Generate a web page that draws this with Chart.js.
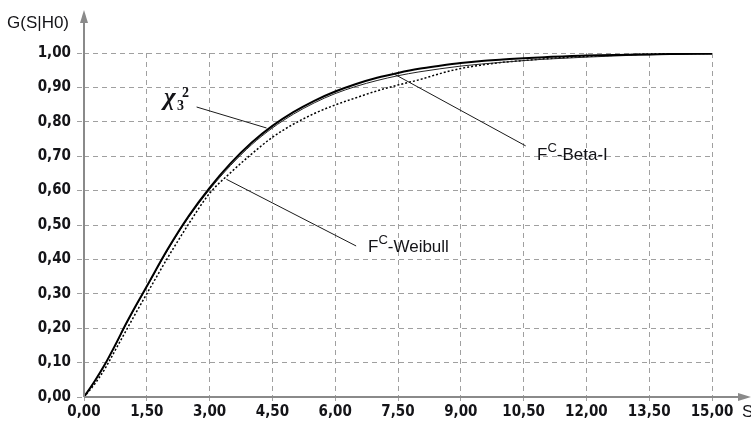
<!DOCTYPE html>
<html>
<head>
<meta charset="utf-8">
<script src="https://cdn.jsdelivr.net/npm/chart.js@4.4.0/dist/chart.umd.min.js"></script>
<style>
  html, body { margin: 0; padding: 0; background: #fff; }
  #wrap { width: 751px; height: 425px; }
</style>
</head>
<body>
<div id="wrap"><canvas id="cdf-chart" width="751" height="425"></canvas></div>
<script>
(function () {
    "use strict";

    // ---------------------------------------------------------
    // DATA
    // ---------------------------------------------------------
    const sValues = [0, 0.25, 0.5, 0.75, 1, 1.25, 1.5, 2, 2.5, 3, 3.5, 4, 4.5, 5, 5.5, 6,
        6.5, 7, 7.5, 8, 8.5, 9, 9.5, 10, 10.5, 11, 12, 13, 13.5, 14, 15];

    const chi2Values = [0, 0.045, 0.095, 0.152, 0.212, 0.268, 0.322, 0.430, 0.526, 0.608, 0.679,
        0.739, 0.788, 0.828, 0.861, 0.888, 0.910, 0.928, 0.942, 0.954, 0.963, 0.971, 0.977,
        0.981, 0.985, 0.988, 0.993, 0.995, 0.996, 0.997, 0.998];

    const betaValues = [0, 0.045, 0.094, 0.150, 0.210, 0.266, 0.320, 0.427, 0.522, 0.603, 0.673,
        0.733, 0.782, 0.822, 0.855, 0.882, 0.903, 0.920, 0.934, 0.945, 0.954, 0.962, 0.968,
        0.973, 0.978, 0.982, 0.988, 0.993, 0.995, 0.996, 0.998];

    const weibullValues = [0, 0.037, 0.082, 0.137, 0.192, 0.247, 0.300, 0.405, 0.503, 0.592, 0.652,
        0.706, 0.755, 0.793, 0.824, 0.849, 0.870, 0.890, 0.907, 0.922, 0.940, 0.955, 0.965,
        0.973, 0.978, 0.983, 0.990, 0.995, 0.997, 0.998, 0.999];

    const xTicks = [0, 1.5, 3, 4.5, 6, 7.5, 9, 10.5, 12, 13.5, 15];
    const yTicks = [0, 0.1, 0.2, 0.3, 0.4, 0.5, 0.6, 0.7, 0.8, 0.9, 1.0];

    const yTitle = "G(S|H0)";
    const xTitle = "S";

    // ---------------------------------------------------------
    // Helpers
    // ---------------------------------------------------------
    const TICK_FONT = '"DejaVu Sans Condensed", "DejaVu Sans", Arial, sans-serif';
    const TEXT_FONT = '"Liberation Sans", Arial, sans-serif';
    const SERIF = '"Liberation Serif", "DejaVu Serif", serif';
    const INK = "#141418";

    const fmt = (v) => Number(v).toFixed(2).replace(".", ",");
    const pts = (vals) => sValues.map((s, i) => ({ x: s, y: vals[i] }));

    function line(ctx, x1, y1, x2, y2) {
        ctx.beginPath();
        ctx.moveTo(x1, y1);
        ctx.lineTo(x2, y2);
        ctx.stroke();
    }

    // F^C-xxx label
    function fcLabel(ctx, text, x, base) {
        ctx.font = "17px " + TEXT_FONT;
        ctx.fillText("F", x, base);
        let w = ctx.measureText("F").width;
        ctx.font = "13px " + TEXT_FONT;
        ctx.fillText("C", x + w, base - 8);
        w += ctx.measureText("C").width;
        ctx.font = "17px " + TEXT_FONT;
        ctx.fillText(text, x + w, base);
    }

    // ---------------------------------------------------------
    // Axes arrows, titles and curve labels
    // ---------------------------------------------------------
    const decorPlugin = {
        id: "cdfDecor",
        afterDraw(chart) {
            const ctx = chart.ctx;
            const sx = chart.scales.x;
            const sy = chart.scales.y;
            const px = (v) => sx.getPixelForValue(v);
            const py = (v) => sy.getPixelForValue(v);
            const x0 = px(0);
            const y0 = py(0);

            ctx.save();

            // axis lines with arrow heads
            ctx.strokeStyle = "#8a8a8a";
            ctx.fillStyle = "#8a8a8a";
            ctx.lineWidth = 2;
            line(ctx, x0, y0, x0, 20);
            line(ctx, x0, y0, 742, y0);
            ctx.beginPath();
            ctx.moveTo(x0, 10);
            ctx.lineTo(x0 - 4, 23);
            ctx.lineTo(x0 + 4, 23);
            ctx.closePath();
            ctx.fill();
            ctx.beginPath();
            ctx.moveTo(751, y0);
            ctx.lineTo(738, y0 - 4);
            ctx.lineTo(738, y0 + 4);
            ctx.closePath();
            ctx.fill();

            // axis titles
            ctx.fillStyle = INK;
            ctx.textBaseline = "alphabetic";
            ctx.textAlign = "left";
            ctx.font = "17px " + TEXT_FONT;
            ctx.fillText(yTitle, 7, 28);
            ctx.fillText(xTitle, 742, 417);

            // leader lines
            ctx.strokeStyle = "#1a1a1a";
            ctx.lineWidth = 1;
            line(ctx, px(2.69), py(0.843), px(4.36), py(0.782));
            line(ctx, px(7.36), py(0.942), px(10.55), py(0.730));
            line(ctx, px(3.40), py(0.633), px(6.50), py(0.439));

            // chi-square label
            ctx.fillStyle = INK;
            ctx.font = "italic bold 25px " + SERIF;
            ctx.fillText("\u03C7", 164, 105);
            ctx.font = "bold 14px " + SERIF;
            ctx.fillText("3", 177, 110);
            ctx.fillText("2", 182, 97);

            // F^C labels
            fcLabel(ctx, "-Beta-I", 537, 160);
            fcLabel(ctx, "-Weibull", 368, 252);

            ctx.restore();
        },
    };

    // ---------------------------------------------------------
    // Chart
    // ---------------------------------------------------------
    const canvas = document.getElementById("cdf-chart");

    new Chart(canvas, {
        type: "line",
        data: {
            datasets: [
                {
                    label: "chi2",
                    data: pts(chi2Values),
                    borderColor: "#000",
                    borderWidth: 2,
                    pointRadius: 0,
                    cubicInterpolationMode: "monotone",
                },
                {
                    label: "Beta-I",
                    data: pts(betaValues),
                    borderColor: "#222",
                    borderWidth: 1,
                    pointRadius: 0,
                    cubicInterpolationMode: "monotone",
                },
                {
                    label: "Weibull",
                    data: pts(weibullValues),
                    borderColor: "#000",
                    borderWidth: 1.5,
                    borderDash: [2, 2],
                    pointRadius: 0,
                    cubicInterpolationMode: "monotone",
                },
            ],
        },
        options: {
            responsive: false,
            animation: false,
            layout: { padding: { top: 53, right: 39, left: 0, bottom: 0 } },
            plugins: {
                legend: { display: false },
                tooltip: { enabled: false },
            },
            scales: {
                x: {
                    type: "linear",
                    min: 0,
                    max: 15,
                    afterBuildTicks: (s) => { s.ticks = xTicks.map((v) => ({ value: v })); },
                    afterFit: (s) => { s.height = 28; },
                    grid: { color: "#a0a0a0", lineWidth: 1, tickLength: 4, tickBorderDash: [5, 4] },
                    border: { display: false, dash: [5, 4] },
                    ticks: {
                        padding: 2,
                        color: INK,
                        maxRotation: 0,
                        autoSkip: false,
                        font: { family: TICK_FONT, size: 15, weight: "bold" },
                        callback: (v) => fmt(v),
                    },
                },
                y: {
                    type: "linear",
                    min: 0,
                    max: 1,
                    afterBuildTicks: (s) => { s.ticks = yTicks.map((v) => ({ value: v })); },
                    afterFit: (s) => { s.width = 84; },
                    grid: { color: "#a0a0a0", lineWidth: 1, tickLength: 7, tickBorderDash: [5, 4] },
                    border: { display: false, dash: [5, 4] },
                    ticks: {
                        padding: 6,
                        color: INK,
                        autoSkip: false,
                        font: { family: TICK_FONT, size: 15, weight: "bold" },
                        callback: (v) => fmt(v),
                    },
                },
            },
        },
        plugins: [decorPlugin],
    });
})();
</script>
</body>
</html>
